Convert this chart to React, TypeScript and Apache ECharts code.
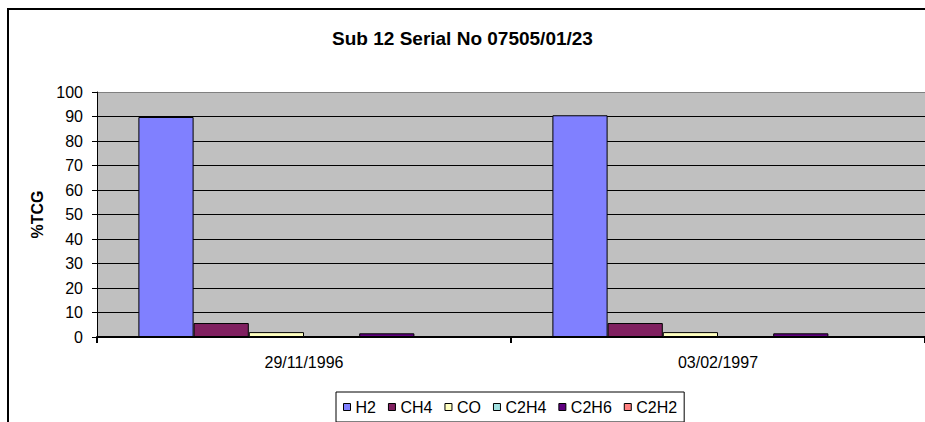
import React, { useEffect, useRef } from "react";
import * as echarts from "echarts";

const categories = ["29/11/1996", "03/02/1997"];
const seriesNames = ["H2", "CH4", "CO", "C2H4", "C2H6", "C2H2"];
const h2 = [89.8, 90.5];
const ch4 = [5.7, 5.7];
const co = [2.0, 2.0];
const c2h4 = [0, 0];
const c2h6 = [1.5, 1.5];
const c2h2 = [0, 0];
const colors = ["#8080FF", "#802060", "#FFFFC0", "#A0E0E0", "#600080", "#FF8080"];

const FONT = "'Liberation Sans', Arial, sans-serif";

export default function App() {
  const ref = useRef<HTMLDivElement>(null);
  useEffect(() => {
    if (!ref.current) return;
    document.body.style.margin = "0";
    document.body.style.overflow = "hidden";
    const chart = echarts.init(ref.current, null, { renderer: "svg" });
    const values = [h2, ch4, co, c2h4, c2h6, c2h2];
    const splitColors = Array.from({ length: 10 }, () => "#000").concat(["#808080"]);
    chart.setOption({
      animation: false,
      textStyle: { fontFamily: FONT },
      title: {
        text: "Sub 12 Serial No 07505/01/23",
        left: "center",
        top: 24,
        textStyle: { fontFamily: FONT, fontSize: 19, fontWeight: "bold", color: "#000" },
      },
      graphic: [
        {
          type: "polyline",
          shape: { points: [[8, 422], [8, 9], [925, 9]] },
          style: { fill: "none", stroke: "#000", lineWidth: 2 },
          silent: true,
        },
      ],
      legend: {
        data: seriesNames,
        left: 336,
        top: 392,
        orient: "horizontal",
        padding: [7, 7, 7, 7],
        itemGap: 12,
        itemWidth: 7,
        itemHeight: 7,
        icon: "rect",
        borderColor: "#000",
        borderWidth: 1,
        textStyle: { fontFamily: FONT, fontSize: 16, color: "#000" },
        itemStyle: { borderColor: "#000", borderWidth: 1 },
      },
      grid: {
        left: 97,
        top: 92,
        right: -3,
        bottom: 85,
        show: true,
        backgroundColor: "#C0C0C0",
        borderWidth: 0,
      },
      xAxis: {
        type: "category",
        data: categories,
        axisLine: { lineStyle: { color: "#000", width: 2 } },
        axisTick: { show: true, length: 6, lineStyle: { color: "#000", width: 2 } },
        axisLabel: { fontFamily: FONT, fontSize: 16, color: "#000", margin: 17 },
      },
      yAxis: {
        type: "value",
        min: 0,
        max: 100,
        interval: 10,
        name: "%TCG",
        nameLocation: "middle",
        nameGap: 52,
        nameTextStyle: { fontFamily: FONT, fontSize: 16, fontWeight: "bold", color: "#000" },
        axisLine: { show: true, lineStyle: { color: "#000", width: 1 } },
        axisTick: { show: true, length: 5, lineStyle: { color: "#000" } },
        axisLabel: { fontFamily: FONT, fontSize: 16, color: "#000", margin: 14 },
        splitLine: { show: true, lineStyle: { color: splitColors, width: 1 } },
      },
      series: seriesNames.map((name, i) => ({
        name,
        type: "bar",
        data: values[i],
        barGap: "0%",
        barCategoryGap: "20%",
        itemStyle: { color: colors[i], borderColor: "#000", borderWidth: 1 },
      })),
    });
    return () => chart.dispose();
  }, []);
  return (
    <div
      ref={ref}
      style={{ position: "fixed", left: 0, top: 0, width: 925, height: 422, background: "#fff" }}
    />
  );
}
